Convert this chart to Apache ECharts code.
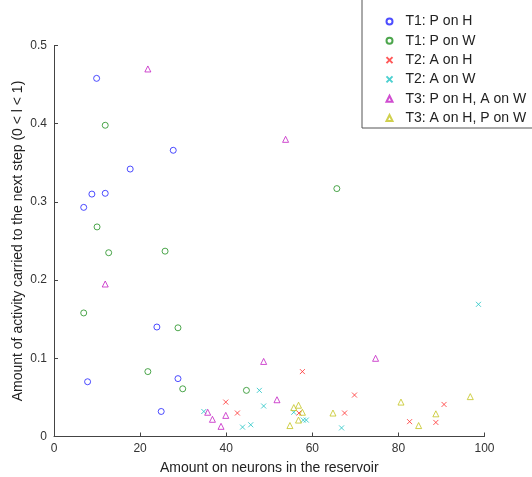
<!DOCTYPE html>
<html>
<head>
<meta charset="utf-8">
<script src="https://cdn.jsdelivr.net/npm/echarts@6/dist/echarts.min.js"></script>
<style>
  html, body { margin: 0; padding: 0; background: #fff; }
  #chart { width: 532px; height: 477px; }
</style>
</head>
<body>
<div id="chart"></div>
<script>
// values
const seriesNames = ['T1: P on H', 'T1: P on W', 'T2: A on H', 'T2: A on W', 'T3: P on H, A on W', 'T3: A on H, P on W'];

const t1hX = [9.9, 27.7, 17.7, 8.8, 11.9, 6.9, 23.9, 7.8, 28.8, 24.9];
const t1hY = [0.458, 0.366, 0.342, 0.310, 0.311, 0.293, 0.140, 0.070, 0.074, 0.032];

const t1wX = [11.9, 10.0, 12.7, 25.8, 6.9, 28.8, 21.8, 29.9, 44.7, 65.7];
const t1wY = [0.398, 0.268, 0.235, 0.237, 0.158, 0.139, 0.083, 0.061, 0.059, 0.317];

const t2hX = [39.9, 42.6, 57.7, 56.9, 69.8, 67.5, 82.6, 90.6, 88.7];
const t2hY = [0.044, 0.030, 0.083, 0.030, 0.053, 0.030, 0.019, 0.041, 0.018];

const t2wX = [34.8, 43.8, 45.7, 47.7, 48.7, 55.7, 57.9, 58.6, 66.8, 98.6];
const t2wY = [0.032, 0.012, 0.015, 0.059, 0.039, 0.031, 0.021, 0.021, 0.011, 0.169];

const t3aX = [21.8, 53.8, 11.9, 35.7, 36.8, 38.8, 39.9, 48.7, 51.8, 74.7];
const t3aY = [0.470, 0.380, 0.195, 0.031, 0.022, 0.013, 0.027, 0.096, 0.047, 0.100];

const t3bX = [55.7, 56.8, 57.7, 56.8, 54.8, 64.8, 80.6, 84.7, 88.7, 96.7];
const t3bY = [0.037, 0.040, 0.031, 0.021, 0.014, 0.030, 0.044, 0.014, 0.029, 0.051];

const colors = ['#2020ff', '#209020', '#ff3030', '#20c4c4', '#c420c4', '#c4c420'];

const xTicks = [0, 20, 40, 60, 80, 100];
const yTicks = [0, 0.1, 0.2, 0.3, 0.4, 0.5];

const crossPath = 'path://M0,0L10,10M10,0L0,10';

function pairs(xs, ys) {
  return xs.map((x, i) => [x, ys[i]]);
}

function makeSeries(name, xs, ys, symbol, size, color) {
  return {
    name: name,
    type: 'scatter',
    data: pairs(xs, ys),
    symbol: symbol,
    symbolSize: size,
    itemStyle: {
      color: 'none',
      borderColor: color,
      borderWidth: 1
    },
    emphasis: { disabled: true }
  };
}

let myChart = echarts.init(document.getElementById('chart'), null, { renderer: 'canvas' });

const font = 'Liberation Sans, Helvetica, Arial, sans-serif';

myChart.setOption({
  animation: false,
  backgroundColor: '#fff',
  grid: {
    left: 54,
    right: 47.5,
    top: 45.5,
    bottom: 40.5,
    containLabel: false,
    outerBoundsMode: 'none'
  },
  legend: {
    orient: 'vertical',
    left: 362,
    top: -1,
    padding: [15.5, 30, 3, 22],
    itemGap: 5.3,
    itemWidth: 6,
    itemHeight: 6,
    borderColor: '#555',
    borderWidth: 1,
    backgroundColor: '#fff',
    textStyle: {
      fontFamily: font,
      fontSize: 14,
      color: '#222',
      padding: [0, 0, 0, 8],
      lineHeight: 12
    },
    data: seriesNames
  },
  xAxis: {
    type: 'value',
    min: 0,
    max: 100,
    interval: 20,
    name: 'Amount on neurons in the reservoir',
    nameLocation: 'middle',
    nameGap: 25,
    nameMoveOverlap: false,
    nameTextStyle: { fontFamily: font, fontSize: 14, color: '#222' },
    axisLine: { show: true, lineStyle: { color: '#444', width: 1 } },
    axisTick: { show: true, inside: true, length: 4, lineStyle: { color: '#444' } },
    axisLabel: {
      fontFamily: font, fontSize: 12, color: '#333', margin: 6,
      formatter: v => xTicks.includes(v) ? String(v) : ''
    },
    splitLine: { show: false }
  },
  yAxis: {
    type: 'value',
    min: 0,
    max: 0.5,
    interval: 0.1,
    name: 'Amount of activity carried to the next step (0 < l < 1)',
    nameLocation: 'middle',
    nameGap: 29,
    nameMoveOverlap: false,
    nameRotate: 90,
    nameTextStyle: { fontFamily: font, fontSize: 14, color: '#222' },
    axisLine: { show: true, lineStyle: { color: '#444', width: 1 } },
    axisTick: { show: true, inside: true, length: 4, lineStyle: { color: '#444' } },
    axisLabel: {
      fontFamily: font, fontSize: 12, color: '#333', margin: 7,
      formatter: v => {
        const r = Math.round(v * 10) / 10;
        return yTicks.includes(r) ? String(r) : '';
      }
    },
    splitLine: { show: false }
  },
  series: [
    makeSeries(seriesNames[0], t1hX, t1hY, 'circle', 6, colors[0]),
    makeSeries(seriesNames[1], t1wX, t1wY, 'circle', 6, colors[1]),
    makeSeries(seriesNames[2], t2hX, t2hY, crossPath, 5, colors[2]),
    makeSeries(seriesNames[3], t2wX, t2wY, crossPath, 5, colors[3]),
    makeSeries(seriesNames[4], t3aX, t3aY, 'triangle', 6, colors[4]),
    makeSeries(seriesNames[5], t3bX, t3bY, 'triangle', 6, colors[5])
  ]
});
</script>
</body>
</html>
